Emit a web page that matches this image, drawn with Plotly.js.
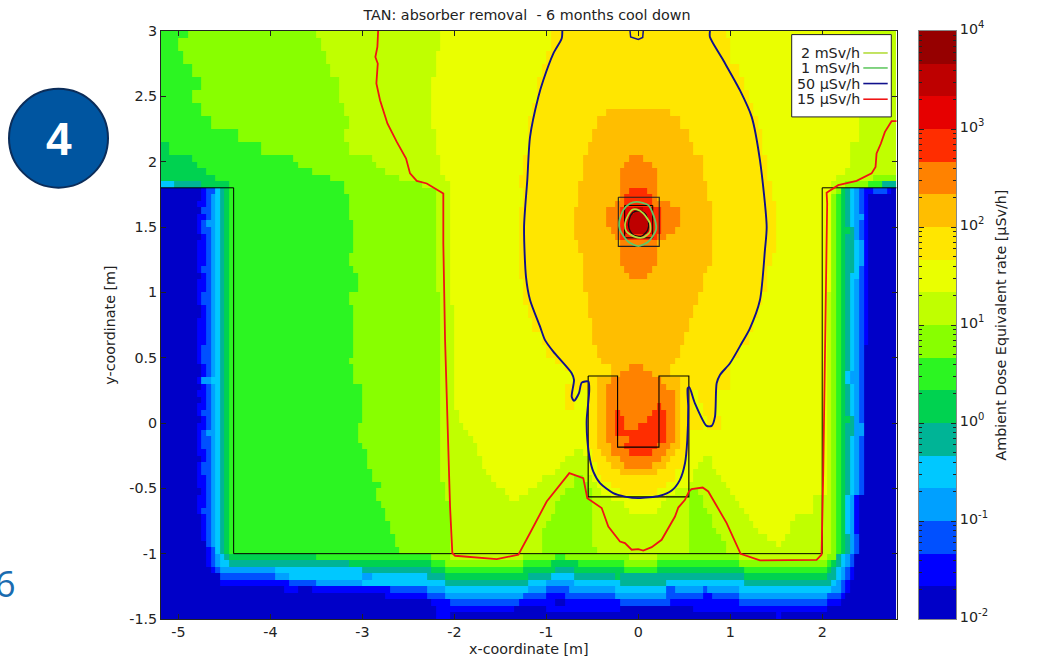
<!DOCTYPE html>
<html><head><meta charset="utf-8">
<script src="https://cdn.plot.ly/plotly-3.0.1.min.js"></script>
<style>html,body{margin:0;padding:0;background:#fff;overflow:hidden}</style>
</head><body><div id="chart" style="width:1038px;height:663px"></div>
<script>
// Colour bands of the dose scale, lowest first (one band = 1/3 decade)
const bandColors = ["#0000c8","#0000ff","#0050ff","#00a0ff","#00c8ff","#00b496","#00d250","#2cf522","#88ff00","#c0ff00","#eaff00","#ffe600","#ffbe00","#ff8200","#ff2d00","#e60000","#be0000","#960000"];
// Each row: [top y in m, "band xEnd band xEnd ... band"]
const doseRows = [
[3,"7 -4.88 8 -3.48 9 -2.14 10 -0.94 11 0.96 10 2.3 9"],
[2.95,"7 -4.98 8 -3.44 9 -2.14 10 -0.94 11 0.98 10 2.3 9"],
[2.85,"7 -4.93 8 -3.39 9 -2.19 10 -1 11 1.02 10 2.3 9"],
[2.75,"7 -4.84 8 -3.33 9 -2.22 10 -1.05 11 1.1 10 2.35 9"],
[2.65,"7 -4.75 8 -3.24 9 -2.23 10 -1.09 11 1.15 10 2.4 9"],
[2.55,"7 -4.84 8 -3.23 9 -2.23 10 -1.12 11 1.2 10 2.45 9"],
[2.45,"7 -4.75 8 -3.19 9 -2.23 10 -1.15 11 1.25 10 2.5 9"],
[2.4,"7 -4.75 8 -3.19 9 -2.23 10 -1.15 11 -0.34 12 0.36 11 1.25 10 2.5 9"],
[2.35,"7 -4.64 8 -3.17 9 -2.23 10 -1.18 11 -0.45 12 0.47 11 1.28 10 2.41 9"],
[2.25,"7 -4.33 8 -3.19 9 -2.22 10 -1.21 11 -0.5 12 0.56 11 1.34 10 2.38 9"],
[2.15,"6 -5.09 7 -4.09 8 -3.13 9 -2.19 10 -1.22 11 -0.54 12 0.62 11 1.37 10 2.3 9"],
[2.05,"6 -4.84 7 -3.75 8 -2.88 9 -2.15 10 -1.25 11 -0.6 12 -0.09 13 0.05 12 0.7 11 1.4 10 2.3 9"],
[2,"6 -4.8 7 -3.7 8 -2.85 9 -2.15 10 -1.25 11 -0.6 12 -0.14 13 0.16 12 0.7 11 1.4 10 2.28 9"],
[1.95,"6 -4.7 7 -3.55 8 -2.75 9 -2.13 10 -1.27 11 -0.6 12 -0.19 13 0.2 12 0.7 11 1.41 10 2.23 9"],
[1.9,"6 -4.58 7 -3.35 8 -2.59 9 -2.12 10 -1.28 11 -0.6 12 -0.19 13 0.2 12 0.7 11 1.42 10 2.15 9 2.55 8"],
[1.85,"4 -5.04 5 -4.74 6 -4.47 7 -3.2 8 -2.34 9 -2.05 10 -1.3 11 -0.63 12 -0.19 13 0.2 12 0.75 11 1.45 10 2.1 9 2.23 8 2.5 7 2.65 5"],
[1.8,"0 -4.75 1 -4.68 2 -4.62 3 -4.58 4 -4.53 5 -4.5 6 -4.44 7 -3.19 8 -2.19 9 -2.05 10 -1.25 11 -0.65 12 -0.19 13 -0.09 14 0.11 13 0.2 12 0.75 11 1.46 10 2.1 9 2.14 8 2.18 7 2.22 6 2.27 5 2.3 4 2.36 3 2.41 2 2.45 1 2.55 2 2.68 1 2.75 0"],
[1.75,"0 -4.76 1 -4.7 2 -4.64 3 -4.58 4 -4.53 5 -4.5 6 -4.44 7 -3.17 8 -2.19 9 -2.05 10 -1.26 11 -0.65 12 -0.19 13 -0.145 14 0.156 13 0.2 12 0.75 11 1.47 10 2.08 9 2.12 8 2.16 7 2.22 6 2.27 5 2.32 4 2.36 3 2.41 2 2.45 1 2.5 0"],
[1.7,"0 -4.78 1 -4.72 2 -4.64 3 -4.59 4 -4.54 5 -4.5 6 -4.44 7 -3.13 8 -2.19 9 -2.05 10 -1.27 11 -0.67 12 -0.24 13 -0.145 14 0.156 13 0.36 12 0.78 11 1.48 10 2.08 9 2.12 8 2.16 7 2.22 6 2.27 5 2.3 4 2.36 3 2.41 2 2.45 1 2.5 0"],
[1.65,"0 -4.75 2 -4.64 3 -4.59 4 -4.54 5 -4.5 6 -4.44 7 -3.13 8 -2.19 9 -2.05 10 -1.28 11 -0.69 12 -0.337 13 -0.19 14 -0.145 15 -0.05 16 0.05 15 0.156 14 0.25 13 0.453 12 0.82 11 1.5 10 2.08 9 2.12 8 2.16 7 2.22 6 2.27 5 2.3 4 2.36 3 2.41 2 2.47 1 2.5 0"],
[1.6,"0 -4.78 1 -4.72 2 -4.66 3 -4.59 4 -4.54 5 -4.5 6 -4.44 7 -3.13 8 -2.19 9 -2.05 10 -1.28 11 -0.69 12 -0.337 13 -0.19 14 -0.145 15 -0.1 16 0.109 15 0.156 14 0.25 13 0.453 12 0.82 11 1.5 10 2.08 9 2.12 8 2.16 7 2.22 6 2.27 5 2.32 4 2.36 3 2.43 2 2.47 1 2.5 0"],
[1.55,"0 -4.78 1 -4.74 2 -4.68 3 -4.59 4 -4.54 5 -4.5 6 -4.44 7 -3.1 8 -2.19 9 -2.05 10 -1.29 11 -0.69 12 -0.337 13 -0.19 14 -0.145 15 -0.1 16 0.109 15 0.156 14 0.25 13 0.453 12 0.82 11 1.5 10 2.08 9 2.12 8 2.16 7 2.22 6 2.27 5 2.3 4 2.36 3 2.41 2 2.45 1 2.5 0"],
[1.5,"0 -4.78 1 -4.74 2 -4.66 3 -4.59 4 -4.54 5 -4.5 6 -4.44 7 -3.1 8 -2.19 9 -2.05 10 -1.3 11 -0.69 12 -0.29 13 -0.19 14 -0.145 15 -0.1 16 0.109 15 0.156 14 0.25 13 0.4 12 0.8 11 1.5 10 2.08 9 2.12 8 2.16 7 2.22 6 2.3 5 2.33 4 2.36 3 2.41 2 2.45 1 2.5 0"],
[1.45,"0 -4.76 1 -4.7 2 -4.64 3 -4.59 4 -4.54 5 -4.5 6 -4.44 7 -3.1 8 -2.19 9 -2.05 10 -1.3 11 -0.69 12 -0.24 13 -0.19 14 0.207 13 0.31 12 0.8 11 1.5 10 2.08 9 2.12 8 2.16 7 2.22 6 2.27 5 2.33 4 2.36 3 2.41 2 2.45 1 2.5 0"],
[1.4,"0 -4.78 1 -4.7 2 -4.64 3 -4.59 4 -4.54 5 -4.5 6 -4.44 7 -3.1 8 -2.19 9 -2.05 10 -1.3 11 -0.65 12 -0.19 13 0.2 12 0.8 11 1.5 10 2.08 9 2.12 8 2.16 7 2.22 6 2.27 5 2.35 4 2.39 3 2.43 2 2.47 1 2.52 0"],
[1.3,"0 -4.78 1 -4.72 2 -4.66 3 -4.59 4 -4.54 5 -4.5 6 -4.44 7 -3.13 8 -2.19 9 -2.05 10 -1.29 11 -0.6 12 -0.19 13 0.2 12 0.78 11 1.45 10 2.08 9 2.12 8 2.16 7 2.22 6 2.27 5 2.35 4 2.39 3 2.43 2 2.47 1 2.52 0"],
[1.2,"0 -4.78 1 -4.74 2 -4.66 3 -4.59 4 -4.54 5 -4.5 6 -4.44 7 -3.1 8 -2.19 9 -2.05 10 -1.28 11 -0.6 12 -0.14 13 0.16 12 0.75 11 1.42 10 2.08 9 2.12 8 2.16 7 2.22 6 2.27 5 2.33 4 2.39 3 2.41 2 2.47 1 2.5 0"],
[1.15,"0 -4.76 1 -4.7 2 -4.66 3 -4.59 4 -4.54 5 -4.5 6 -4.44 7 -3.04 8 -2.19 9 -2.05 10 -1.28 11 -0.6 12 -0.1 13 0.11 12 0.72 11 1.4 10 2.08 9 2.12 8 2.16 7 2.22 6 2.27 5 2.3 4 2.39 3 2.41 2 2.47 1 2.5 0"],
[1.1,"0 -4.78 1 -4.72 2 -4.66 3 -4.59 4 -4.54 5 -4.5 6 -4.44 7 -3.04 8 -2.19 9 -2.05 10 -1.27 11 -0.58 12 0.68 11 1.38 10 2.08 9 2.12 8 2.16 7 2.22 6 2.27 5 2.3 4 2.36 3 2.41 2 2.47 1 2.5 0"],
[1,"0 -4.78 1 -4.74 2 -4.66 3 -4.59 4 -4.54 5 -4.5 6 -4.44 7 -3.13 8 -2.14 9 -2.05 10 -1.23 11 -0.54 12 0.65 11 1.36 10 2.06 9 2.1 8 2.16 7 2.2 6 2.26 5 2.3 4 2.36 3 2.41 2 2.45 1 2.5 0"],
[0.9,"0 -4.76 1 -4.72 2 -4.66 3 -4.59 4 -4.54 5 -4.5 6 -4.44 7 -3.09 8 -2.14 9 -2.02 10 -1.2 11 -0.54 12 0.62 11 1.3 10 2.06 9 2.1 8 2.16 7 2.2 6 2.26 5 2.3 4 2.36 3 2.41 2 2.45 1 2.5 0"],
[0.8,"0 -4.78 1 -4.7 2 -4.64 3 -4.59 4 -4.54 5 -4.5 6 -4.44 7 -3.09 8 -2.14 9 -2 10 -1.14 11 -0.5 12 0.55 11 1.25 10 2.05 9 2.1 8 2.16 7 2.2 6 2.26 5 2.3 4 2.36 3 2.41 2 2.45 1 2.48 0"],
[0.7,"0 -4.78 1 -4.72 2 -4.66 3 -4.59 4 -4.54 5 -4.5 6 -4.44 7 -3.09 8 -2.14 9 -2 10 -1.05 11 -0.5 12 0.5 11 1.2 10 2.05 9 2.1 8 2.16 7 2.2 6 2.26 5 2.3 4 2.36 3 2.41 2 2.45 1 2.48 0"],
[0.6,"0 -4.78 1 -4.74 2 -4.64 3 -4.59 4 -4.54 5 -4.5 6 -4.44 7 -3.09 8 -2.14 9 -2 10 -0.98 11 -0.45 12 0.45 11 1.12 10 2.05 9 2.1 8 2.16 7 2.2 6 2.26 5 2.3 4 2.36 3 2.41 2 2.45 0"],
[0.5,"0 -4.78 1 -4.74 2 -4.64 3 -4.59 4 -4.54 5 -4.49 6 -4.44 7 -3.13 8 -2.14 9 -2 10 -0.9 11 -0.38 12 0.38 11 1.02 10 2.05 9 2.1 8 2.16 7 2.2 6 2.26 5 2.3 4 2.36 3 2.41 2 2.45 0"],
[0.45,"0 -4.76 1 -4.7 2 -4.64 3 -4.59 4 -4.54 5 -4.49 6 -4.44 7 -3.08 8 -2.14 9 -2 10 -0.78 11 -0.31 12 -0.09 13 0.055 12 0.35 11 1 10 2.05 9 2.1 8 2.16 7 2.2 6 2.26 5 2.3 4 2.36 3 2.41 2 2.45 0"],
[0.4,"0 -4.76 1 -4.7 2 -4.64 3 -4.59 4 -4.54 5 -4.49 6 -4.44 7 -3.08 8 -2.14 9 -2 10 -0.72 11 -0.3 12 -0.2 13 0.163 12 0.35 11 1 10 2.05 9 2.1 8 2.16 7 2.2 6 2.26 4 2.32 3 2.38 2 2.45 0"],
[0.35,"0 -4.78 1 -4.74 3 -4.64 4 -4.54 5 -4.49 6 -4.44 7 -3.08 8 -2.14 9 -2 10 -0.71 11 -0.45 12 -0.29 13 0.236 12 0.45 11 1 10 2.05 9 2.1 8 2.16 7 2.2 6 2.26 4 2.32 3 2.38 2 2.45 0"],
[0.3,"0 -4.76 1 -4.72 2 -4.66 3 -4.59 4 -4.54 5 -4.49 6 -4.44 7 -3.02 8 -2.14 9 -2 10 -0.78 11 -0.45 12 -0.34 13 0.3 12 0.45 11 1 10 2.05 9 2.1 8 2.16 7 2.2 6 2.26 5 2.3 4 2.36 3 2.41 2 2.45 0"],
[0.25,"0 -4.78 1 -4.7 2 -4.64 3 -4.59 4 -4.54 5 -4.49 6 -4.44 7 -3 8 -2.14 9 -2 10 -0.78 11 -0.71 10 -0.54 11 -0.45 12 -0.34 13 0.4 12 0.45 11 0.58 10 0.66 11 0.85 10 2.05 9 2.1 8 2.16 7 2.2 6 2.26 5 2.3 4 2.36 3 2.41 2 2.45 0"],
[0.2,"0 -4.76 1 -4.7 2 -4.64 3 -4.59 4 -4.54 5 -4.49 6 -4.44 7 -3 8 -2.14 9 -2 10 -0.78 11 -0.71 10 -0.54 11 -0.45 12 -0.344 13 0.4 12 0.45 11 0.58 10 0.66 11 0.85 10 2.05 9 2.1 8 2.16 7 2.2 6 2.26 5 2.3 4 2.36 3 2.41 2 2.45 0"],
[0.15,"0 -4.78 1 -4.72 2 -4.66 3 -4.59 4 -4.54 5 -4.49 6 -4.44 7 -3 8 -2.14 9 -1.98 10 -0.78 11 -0.71 10 -0.54 11 -0.45 12 -0.344 13 0.208 14 0.254 13 0.4 12 0.45 11 0.62 10 0.68 11 0.85 10 2.05 9 2.1 8 2.16 7 2.2 6 2.26 5 2.3 4 2.36 3 2.41 2 2.45 0"],
[0.1,"0 -4.78 1 -4.74 2 -4.66 3 -4.59 4 -4.54 5 -4.49 6 -4.44 7 -3 8 -2.14 9 -1.95 10 -0.54 11 -0.45 12 -0.344 13 -0.24 14 -0.2 13 0.163 14 0.308 13 0.4 12 0.45 11 0.65 10 0.72 11 0.85 10 2.05 9 2.1 8 2.16 7 2.2 6 2.26 5 2.3 4 2.36 3 2.41 2 2.45 0"],
[0.05,"0 -4.76 1 -4.72 2 -4.66 3 -4.59 4 -4.54 5 -4.49 6 -4.44 7 -3 8 -2.14 9 -1.95 10 -0.54 11 -0.45 12 -0.344 13 -0.24 14 -0.145 13 0.11 14 0.308 13 0.4 12 0.45 11 0.68 10 0.75 11 0.88 10 2.05 9 2.1 8 2.16 7 2.2 6 2.3 5 2.33 4 2.36 3 2.41 2 2.45 0"],
[0,"0 -4.78 1 -4.72 2 -4.66 3 -4.59 4 -4.54 5 -4.49 6 -4.44 7 -3.04 8 -2.14 9 -1.9 10 -0.54 11 -0.45 12 -0.344 13 -0.24 14 -0.145 13 0 14 0.308 13 0.4 12 0.45 11 0.7 10 0.76 11 0.9 10 2.05 9 2.1 8 2.16 7 2.2 6 2.26 5 2.33 4 2.36 3 2.43 1 2.47 0"],
[-0.05,"0 -4.8 1 -4.74 2 -4.68 3 -4.59 4 -4.54 5 -4.49 6 -4.44 7 -3.04 8 -2.14 9 -1.85 10 -0.54 11 -0.45 12 -0.344 13 -0.24 14 0.308 13 0.4 12 0.45 11 0.55 10 2.05 9 2.1 8 2.16 7 2.2 6 2.26 5 2.33 4 2.36 3 2.43 1 2.47 0"],
[-0.1,"0 -4.78 1 -4.74 2 -4.66 3 -4.59 4 -4.54 5 -4.49 6 -4.44 7 -3.04 8 -2.14 9 -1.8 10 -0.54 11 -0.45 12 -0.344 13 -0.09 14 0.308 13 0.4 12 0.45 11 0.55 10 2.05 9 2.1 8 2.16 7 2.2 6 2.26 5 2.3 4 2.36 3 2.41 2 2.45 0"],
[-0.15,"0 -4.78 1 -4.74 2 -4.66 3 -4.59 4 -4.54 5 -4.49 6 -4.44 7 -3 8 -2.14 9 -1.77 10 -0.54 11 -0.45 12 -0.29 13 -0.145 14 0.22 13 0.35 12 0.45 11 0.55 10 2.05 9 2.1 8 2.16 7 2.2 6 2.26 5 2.3 4 2.36 3 2.41 2 2.45 0"],
[-0.2,"0 -4.78 1 -4.72 2 -4.66 3 -4.59 4 -4.54 5 -4.49 6 -4.44 7 -2.97 8 -2.14 9 -1.75 10 -0.7 9 -0.6 10 -0.52 11 -0.42 12 -0.29 13 -0.09 14 0.163 13 0.3 12 0.42 11 0.53 10 2.05 9 2.1 8 2.16 7 2.2 6 2.26 5 2.3 4 2.36 3 2.41 2 2.45 0"],
[-0.25,"0 -4.76 1 -4.7 2 -4.64 3 -4.59 4 -4.54 5 -4.49 6 -4.44 7 -2.97 8 -2.14 9 -1.72 10 -0.78 9 -0.55 10 -0.49 11 -0.35 12 -0.2 13 0.254 12 0.35 11 0.52 10 0.69 9 0.78 10 2.05 9 2.1 8 2.16 7 2.2 6 2.26 5 2.3 4 2.36 3 2.41 2 2.45 0"],
[-0.3,"0 -4.78 1 -4.74 2 -4.66 3 -4.59 4 -4.54 5 -4.49 6 -4.44 7 -2.93 8 -2.14 9 -1.7 10 -0.85 9 -0.54 10 -0.46 11 -0.29 12 -0.145 13 0.163 12 0.3 11 0.5 10 0.66 9 0.8 10 2.05 9 2.1 8 2.16 7 2.2 6 2.26 5 2.3 4 2.36 3 2.41 2 2.45 0"],
[-0.35,"0 -4.78 1 -4.74 2 -4.66 3 -4.59 4 -4.54 5 -4.49 6 -4.44 7 -2.9 8 -2.14 9 -1.65 10 -0.92 9 -0.54 10 -0.43 11 -0.2 12 0.2 11 0.42 10 0.62 9 0.85 10 2.05 9 2.1 8 2.16 7 2.2 6 2.26 5 2.3 4 2.36 3 2.41 2 2.45 0"],
[-0.4,"0 -4.78 1 -4.72 2 -4.66 3 -4.59 4 -4.54 5 -4.49 6 -4.44 7 -2.88 8 -2.14 9 -1.58 10 -1.03 9 -0.72 8 -0.62 9 -0.5 10 -0.4 11 0.38 10 0.58 9 0.92 10 2.05 9 2.1 8 2.16 7 2.2 6 2.26 5 2.3 4 2.36 3 2.41 2 2.45 0"],
[-0.45,"0 -4.78 1 -4.72 2 -4.64 3 -4.59 4 -4.54 5 -4.49 6 -4.44 7 -2.8 8 -2.12 9 -1.53 10 -1.12 9 -0.72 8 -0.55 9 -0.46 10 -0.3 11 0.31 10 0.55 9 0.96 10 2.05 9 2.1 8 2.16 7 2.2 6 2.26 5 2.3 4 2.36 3 2.41 2 2.45 0"],
[-0.5,"0 -4.76 1 -4.7 2 -4.66 3 -4.59 4 -4.54 5 -4.49 6 -4.44 7 -2.83 8 -2.1 9 -1.47 10 -1.21 9 -0.78 8 -0.5 9 -0.4 10 -0.2 11 0.2 10 0.42 9 0.55 8 0.64 9 1 10 2.05 9 2.1 8 2.16 7 2.2 6 2.26 5 2.3 4 2.36 3 2.41 2 2.45 0"],
[-0.55,"0 -4.78 1 -4.72 2 -4.66 3 -4.59 4 -4.54 5 -4.49 6 -4.44 7 -2.83 8 -2.08 9 -1.38 10 -1.3 9 -0.85 8 -0.49 9 -0.31 10 0.31 9 0.55 8 0.69 9 1.065 10 1.91 9 2.1 8 2.16 7 2.21 6 2.25 4 2.3 3 2.35 1 2.4 0"],
[-0.6,"0 -4.78 1 -4.72 2 -4.64 3 -4.59 4 -4.54 5 -4.49 6 -4.44 7 -2.78 8 -2.05 9 -0.88 8 -0.49 9 -0.16 10 0.25 9 0.56 8 0.7 9 1.11 10 1.91 9 2.1 8 2.16 7 2.21 6 2.25 4 2.3 3 2.35 1 2.4 0"],
[-0.65,"0 -4.78 1 -4.74 2 -4.64 3 -4.59 4 -4.54 5 -4.49 6 -4.44 7 -2.73 8 -2.05 9 -0.92 8 -0.49 9 -0.09 10 0.215 9 0.56 8 0.76 9 1.155 10 1.91 9 2.1 8 2.16 7 2.21 6 2.25 4 2.3 3 2.35 1 2.4 0"],
[-0.7,"0 -4.76 1 -4.72 2 -4.66 3 -4.59 4 -4.54 5 -4.49 6 -4.44 7 -2.73 8 -2.05 9 -0.96 8 -0.49 9 0.56 8 0.79 9 1.21 10 1.72 9 2.1 8 2.16 7 2.21 6 2.25 4 2.3 3 2.35 1 2.4 0"],
[-0.75,"0 -4.74 1 -4.7 2 -4.64 3 -4.59 4 -4.54 5 -4.49 6 -4.44 7 -2.7 8 -2.05 9 -1 8 -0.49 9 0.56 8 0.81 9 1.26 10 1.66 9 2.1 8 2.16 7 2.21 6 2.25 4 2.3 3 2.35 1 2.4 0"],
[-0.8,"0 -4.74 1 -4.68 2 -4.64 3 -4.59 4 -4.54 5 -4.49 6 -4.44 7 -2.68 8 -2.05 9 -1.03 8 -0.49 9 0.56 8 0.86 9 1.31 10 1.66 9 2.1 8 2.16 7 2.21 6 2.25 4 2.3 3 2.35 1 2.4 0"],
[-0.85,"0 -4.74 1 -4.68 2 -4.64 3 -4.59 4 -4.54 5 -4.49 6 -4.44 7 -2.65 8 -2.05 9 -1.03 8 -0.49 9 0.56 8 0.9 9 1.41 10 1.59 9 2.1 8 2.15 7 2.21 6 2.25 5 2.3 3 2.35 2 2.4 0"],
[-0.9,"0 -4.72 1 -4.68 2 -4.64 3 -4.59 4 -4.54 5 -4.49 6 -4.44 7 -2.65 8 -2.05 9 -1.03 8 -0.49 9 0.56 8 0.96 9 1.51 10 1.56 9 2.1 8 2.15 7 2.21 6 2.25 5 2.3 3 2.35 2 2.4 0"],
[-0.95,"0 -4.7 1 -4.66 2 -4.62 3 -4.59 4 -4.54 5 -4.49 6 -4.44 7 -2.62 8 -2.05 9 -1.03 8 -0.46 9 0.56 8 0.96 9 2.1 8 2.15 7 2.21 6 2.25 5 2.3 3 2.35 2 2.4 0"],
[-1,"0 -4.7 1 -4.65 2 -4.59 3 -4.54 4 -4.49 5 -4.44 6 -3.5 7 -2.25 8 -2.03 9 -1.25 8 -0.885 7 -0.8 8 -0.09 9 0.2 8 1.1 9 2.054 8 2.15 5 2.21 4 2.25 3 2.3 2 2.35 0"],
[-1.05,"0 -4.7 1 -4.65 2 -4.59 3 -4.54 4 -4.44 5 -3.13 6 -2.25 7 -2.09 8 -1.25 7 -0.94 6 -0.64 7 -0.145 8 0.2 7 1.1 8 2.054 7 2.1 6 2.15 5 2.21 4 2.25 3 2.3 2 2.35 0"],
[-1.1,"0 -4.65 1 -4.59 2 -4.54 3 -3.95 4 -3 5 -2.25 6 -2.09 7 -1.25 6 -0.885 5 -0.69 6 -0.145 7 0.2 6 1.16 7 2.054 6 2.1 5 2.15 4 2.21 3 2.25 2 2.3 1 2.35 0"],
[-1.15,"0 -4.54 2 -3.95 3 -3.78 4 -3 3 -2.9 4 -2.3 5 -2.09 6 -1.185 5 -0.94 4 -0.69 5 -0.24 6 -0.19 5 1.16 6 2.054 5 2.15 4 2.21 3 2.25 2 2.3 1 2.35 0"],
[-1.2,"0 -4.54 1 -3.78 2 -3.5 3 -3 4 -2.09 5 -1.185 4 -0.995 3 -0.69 4 -0.19 5 0.32 4 1.16 5 2.1 4 2.15 3 2.21 2 2.25 1 2.32 0"],
[-1.25,"0 -3.85 1 -3.7 0 -3.55 1 -2.7 2 -2.3 3 -2.09 4 -1.185 3 -0.995 2 -0.74 3 -0.24 4 0.32 2 0.39 3 0.71 2 0.76 3 1.1 4 2.1 3 2.21 2 2.25 1 2.3 0"],
[-1.3,"0 -2.75 1 -2.3 2 -2.12 3 -1.24 2 -0.995 1 -0.8 2 -0.24 3 0.32 2 0.71 1 0.8 2 1.1 3 2.054 2 2.21 1 2.25 0"],
[-1.35,"0 -2.24 1 -2.04 2 -1.29 1 -0.885 0 -0.8 1 -0.19 2 0.35 1 1.1 2 2.054 1 2.21 0"],
[-1.4,"0 -2.2 1 -1.34 0 -0.995 1 -0.19 0 0.6 1 2.054 0"],
[-1.45,"0 -2.2 1 -2.05 0 1.52 1 1.56 0"]
];
const yBottom = -1.5;

// Contour lines
const c15x = [-2.829,-2.837,-2.859,-2.833,-2.848,-2.808,-2.728,-2.626,-2.525,-2.482,-2.409,-2.3,-2.12,-2.12,-2.101,-2.065,-2.047,-2.022,-1.992,-1.539,-1.304,-1.177,-0.996,-0.75,-0.598,-0.554,-0.398,-0.326,-0.199,-0.145,-0.072,0,0.054,0.146,0.254,0.399,0.435,0.508,0.551,0.58,0.7,0.761,0.961,1.113,1.323,1.939,1.993,2.011,2.029,2.048,2.054,2.048,2.174,2.374,2.537,2.58,2.591,2.638,2.682,2.754,2.81];
const c15y = [3,2.878,2.801,2.751,2.598,2.47,2.292,2.151,2.024,1.91,1.853,1.833,1.757,1.375,0.635,-0.129,-0.639,-0.995,-1.016,-1.042,-1.008,-0.842,-0.601,-0.384,-0.422,-0.575,-0.651,-0.792,-0.907,-0.919,-0.97,-0.965,-0.976,-0.95,-0.894,-0.716,-0.647,-0.588,-0.524,-0.506,-0.494,-0.524,-0.766,-1.001,-1.052,-1.047,-1.008,-0.384,0.381,1.323,1.68,1.762,1.82,1.853,1.91,1.96,2.063,2.139,2.228,2.31,2.31];
const c50x = [-0.826,-0.833,-0.924,-1.033,-1.087,-1.177,-1.207,-1.242,-1.221,-1.177,-1.068,-1.014,-0.924,-0.724,-0.699,-0.724,-0.699,-0.645,-0.615,-0.543,-0.533,-0.561,-0.554,-0.525,-0.489,-0.416,-0.272,-0.145,0,0.236,0.363,0.453,0.508,0.533,0.543,0.537,0.554,0.616,0.743,0.798,0.834,0.852,0.888,0.997,1.124,1.214,1.323,1.377,1.396,1.323,1.233,1.105,0.924,0.779,0.779];
const c50y = [3,2.942,2.827,2.623,2.495,2.19,1.859,1.502,1.119,0.941,0.737,0.634,0.546,0.381,0.33,0.202,0.169,0.228,0.309,0.317,0.253,0.024,-0.129,-0.281,-0.372,-0.46,-0.537,-0.563,-0.575,-0.557,-0.517,-0.435,-0.308,-0.129,0.126,0.266,0.274,0.151,-0.022,-0.022,0.049,0.304,0.368,0.457,0.61,0.725,0.941,1.323,1.502,2.011,2.343,2.547,2.776,2.954,3];
const c50topX = [-0.09,-0.083,0,0.048,0.054];
const c50topY = [3,2.954,2.936,2.95,3];
const c1mX = [-0.017,0.109,0.182,0.192,0.109,0,-0.109,-0.199,-0.207,-0.163,-0.09,-0.017];
const c1mY = [1.693,1.667,1.553,1.477,1.387,1.354,1.387,1.477,1.54,1.629,1.68,1.693];
const c2mX = [-0.017,0.054,0.127,0.127,0.054,-0.036,-0.126,-0.145,-0.109,-0.061,-0.017];
const c2mY = [1.635,1.604,1.528,1.463,1.42,1.425,1.463,1.515,1.591,1.634,1.635];
const coreX = [0,0.073,0.109,0.102,0.037,-0.054,-0.101,-0.101,-0.061,0];
const coreY = [1.624,1.604,1.54,1.476,1.43,1.438,1.489,1.553,1.609,1.624];
// Black geometry outlines
const tunnelX = [-5.19,-4.4,-4.4,2,2,2.81];
const tunnelY = [1.8,1.8,-1,-1,1.8,1.8];
const tanX = [-0.545,-0.225,-0.225,0.225,0.225,0.55,0.55,-0.545,-0.545];
const tanY = [0.36,0.36,-0.185,-0.185,0.36,0.36,-0.565,-0.565,0.36];
const absOutX = [-0.217,0.228,0.228,-0.217,-0.217];
const absOutY = [1.728,1.728,1.352,1.352,1.728];
const absInX = [-0.148,0.157,0.157,-0.148,-0.148];
const absInY = [1.665,1.665,1.417,1.417,1.665];

const xTicks = [-5,-4,-3,-2,-1,0,1,2];
const xTickText = ["-5","-4","-3","-2","-1","0","1","2"];
const yTicks = [-1.5,-1,-0.5,0,0.5,1,1.5,2,2.5,3];
const yTickText = ["-1.5","-1","-0.5","0","0.5","1","1.5","2","2.5","3"];
const decades = [-2,-1,0,1,2,3,4];
const decadeText = ["10<sup>-2</sup>","10<sup>-1</sup>","10<sup>0</sup>","10<sup>1</sup>","10<sup>2</sup>","10<sup>3</sup>","10<sup>4</sup>"];
const legendNames = ["2 mSv/h","1 mSv/h","50 µSv/h","15 µSv/h"];
const legendColors = ["#b4dc3c","#64c864","#10108c","#f01414"];

// --- layout constants (pixels of the page) ---
const W=1038,H=663,L=161,R=956,T=30.7,B=619.3,PLOT_R=896.7,BAR_L=919;
const px=v=>(v-L)/(R-L), py=v=>1-(v-T)/(B-T);

// Expand the run-length rows to a matrix on the 0.05 m grid
const nCols=160, x0=-5.175, dx=0.05;
const rows=doseRows.slice().reverse();
const yEdges=[yBottom].concat(rows.map(r=>r[0]));
const z=rows.map(r=>{
  const t=r[1].split(" ").map(Number); let k=0; const out=[];
  for(let i=0;i<nCols;i++){
    const c=x0+i*dx;
    while(k+1<t.length && c>t[k+1]) k+=2;
    out.push(-2+(t[k]+0.5)/3);
  }
  return out;
});
const cs=[]; bandColors.forEach((c,i)=>{cs.push([i/18,c]);cs.push([(i+1)/18,c]);});
const barEdges=bandColors.map((c,i)=>-2+i/3).concat([4]);
const barZ=bandColors.map((c,i)=>[-2+(i+0.5)/3]);
const minorV=[];
decades.forEach(d=>{ if(d<4) for(let m=2;m<10;m++) minorV.push(d+Math.log10(m)); });

const line=(x,y,color,width,name,spline)=>({type:"scatter",mode:"lines",x,y,name,showlegend:false,hoverinfo:"skip",line:{color,width,shape:spline?"spline":"linear",smoothing:0.7}});
const traces=[
 {type:"heatmap",x0,dx,y:yEdges,z,zmin:-2,zmax:4,colorscale:cs,zsmooth:false,hoverinfo:"skip",showscale:false,name:"dose"},
 {type:"heatmap",x:[0,1],y:barEdges,z:barZ,zmin:-2,zmax:4,colorscale:cs,zsmooth:false,hoverinfo:"skip",showscale:false,xaxis:"x2",yaxis:"y2",name:"scale"},
 line(tunnelX,tunnelY,"#000",1,"tunnel"),
 line(tanX,tanY,"#000",1.1,"TAN"),
 line(absOutX,absOutY,"#222",1.1,"absorber outer"),
 line(absInX,absInY,"#000",1,"absorber inner"),
 line(coreX,coreY,"#111",1.3,"core",true),
 line(c15x,c15y,legendColors[3],1.8,legendNames[3]),
 line(c50x,c50y,legendColors[2],1.9,legendNames[2],true),
 line(c50topX,c50topY,legendColors[2],1.5,legendNames[2]),
 line(c1mX,c1mY,legendColors[1],1.8,legendNames[1],true),
 line(c2mX,c2mY,legendColors[0],1.8,legendNames[0],true)
];

const legendLineY=[52.7,67.7,83.3,99];
const shapes=[
 {type:"rect",xref:"paper",yref:"paper",x0:px(791.7),x1:px(891.3),y0:py(116.7),y1:py(34.3),fillcolor:"#fff",line:{color:"#222",width:1},layer:"above"},
 {type:"circle",xref:"paper",yref:"paper",x0:px(9),x1:px(108),y0:py(187.5),y1:py(88.5),fillcolor:"#0055a0",line:{color:"#0b2d5a",width:2},layer:"above"}
];
const annotations=[
 {xref:"paper",yref:"paper",x:px(58.5),y:py(139),text:"<b>4</b>",showarrow:false,xanchor:"center",yanchor:"middle",font:{family:"Liberation Sans",size:46,color:"#fff"}},
 {xref:"paper",yref:"paper",x:px(-7),y:py(584),text:"6",showarrow:false,xanchor:"left",yanchor:"middle",font:{family:"Open Sans",size:36,color:"#1a6cb0"}}
];
legendNames.forEach((n,i)=>{
 shapes.push({type:"line",xref:"paper",yref:"paper",x0:px(863.3),x1:px(887.7),y0:py(legendLineY[i]),y1:py(legendLineY[i]),line:{color:legendColors[i],width:1.6},layer:"above"});
 annotations.push({xref:"paper",yref:"paper",x:px(860.7),y:py(legendLineY[i]),text:n,showarrow:false,xanchor:"right",yanchor:"middle",font:{family:"DejaVu Sans",size:14.3,color:"#222"},borderpad:0});
});

const axisFont={family:"DejaVu Sans",size:14.3,color:"#222"};
const layout={width:W,height:H,margin:{l:L,r:W-R,t:T,b:H-B,pad:0},paper_bgcolor:"#fff",plot_bgcolor:"#fff",showlegend:false,
 title:{text:"TAN: absorber removal  - 6 months cool down",x:527/W,xref:"container",xanchor:"center",y:1-15/H,yref:"container",yanchor:"middle",font:{family:"DejaVu Sans",size:14.3,color:"#222"}},
 xaxis:{domain:[0,px(PLOT_R)],range:[-5.19,2.81],tickvals:xTicks,ticktext:xTickText,ticks:"inside",ticklen:5,tickcolor:"#222",mirror:"ticks",showline:true,linecolor:"#222",linewidth:1,showgrid:false,zeroline:false,tickfont:axisFont,tickangle:0,title:{text:"x-coordinate [m]",font:axisFont,standoff:4}},
 yaxis:{range:[-1.5,3],tickvals:yTicks,ticktext:yTickText,ticks:"inside",ticklen:5,tickcolor:"#222",mirror:"ticks",showline:true,linecolor:"#222",linewidth:1,showgrid:false,zeroline:false,tickfont:axisFont,title:{text:"y-coordinate [m]",font:axisFont,standoff:10}},
 xaxis2:{domain:[px(BAR_L),1],range:[0,1],anchor:"y2",showticklabels:false,ticks:"",showgrid:false,zeroline:false,showline:true,linecolor:"#888",linewidth:1,mirror:true,fixedrange:true},
 yaxis2:{range:[-2,4],anchor:"x2",side:"right",tickvals:decades,ticktext:decadeText,ticks:"inside",ticklen:5,tickcolor:"#222",mirror:"ticks",showline:true,linecolor:"#888",linewidth:1,showgrid:false,zeroline:false,tickfont:axisFont,ticklabelshift:-2,
   minor:{tickmode:"array",tickvals:minorV,ticks:"inside",ticklen:3,tickcolor:"#222",showgrid:false},
   title:{text:"Ambient Dose Equivalent rate [µSv/h]",font:axisFont,standoff:8},fixedrange:true},
 shapes,annotations};
Plotly.newPlot("chart",traces,layout,{displayModeBar:false,responsive:false});
</script></body></html>
